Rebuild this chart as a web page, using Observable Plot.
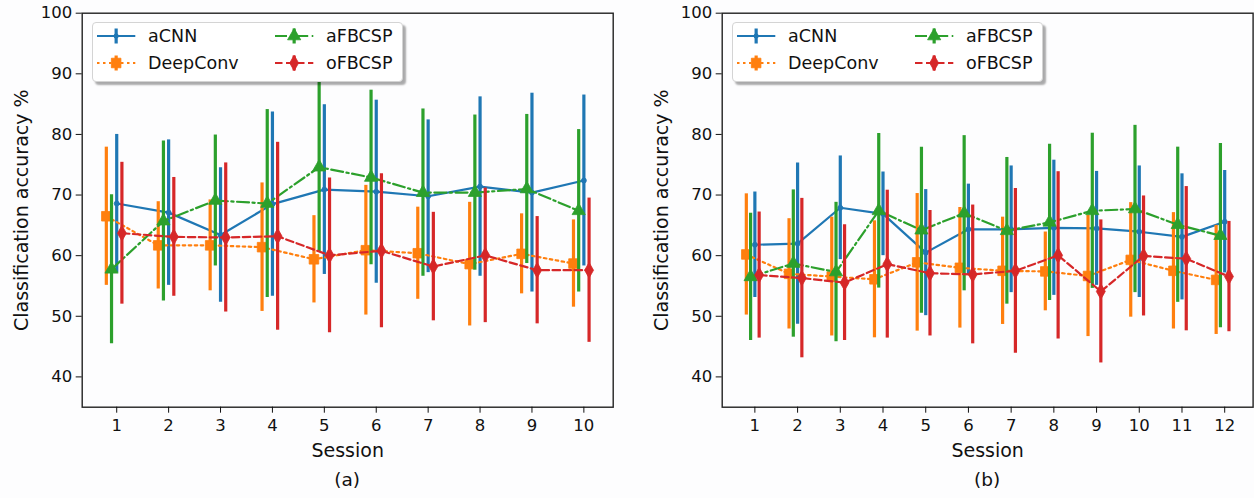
<!DOCTYPE html>
<html>
<head>
<meta charset="utf-8">
<script src="https://cdn.jsdelivr.net/npm/d3@7"></script>
<script src="https://cdn.jsdelivr.net/npm/@observablehq/plot@0.6"></script>
<style>
  body { margin: 0; background: #fdfdfe; font-family: "DejaVu Sans", sans-serif; color: #111; }
  #wrap { display: flex; width: 1254px; height: 498px; }
  .panel { position: relative; width: 627px; height: 498px; }
  .panel svg { display: block; }
  .cap { position: absolute; left: 0; top: 465px; height: 30px; line-height: 30px; font-size: 18.5px; text-align: center; transform: translateX(-50%); }
  .legend { position: absolute; top: 21.7px; width: 311.6px; height: 60px; box-sizing: border-box;
            background: #fff; border: 1px solid #d4d4d4; border-radius: 4px;
            box-shadow: 3px 3px 2px rgba(0,0,0,0.33); }
  .legend .h { position: absolute; }
  .legend .t { position: absolute; font-size: 17.5px; line-height: 20px; height: 20px; white-space: nowrap; }
</style>
</head>
<body>
<div id="wrap"></div>
<script>
// ---------------- data ----------------
const methods = ["aCNN", "DeepConv", "aFBCSP", "oFBCSP"];

// panel (a): sessions 1-10
const sessionsA = [1, 2, 3, 4, 5, 6, 7, 8, 9, 10];
const aCNN_a       = [68.6, 67.1, 63.4, 68.5, 70.9, 70.55, 69.8, 71.4, 70.4, 72.4];
const aCNN_a_err   = [11.4, 12.0, 11.1, 15.2, 14.0, 15.1, 12.6, 14.8, 16.4, 14.1];
const deepConv_a     = [66.5, 61.7, 61.7, 61.4, 59.4, 60.9, 60.4, 58.6, 60.3, 58.7];
const deepConv_a_err = [11.4, 7.2, 7.5, 10.6, 7.2, 10.7, 7.6, 10.2, 6.6, 7.2];
const aFBCSP_a     = [57.75, 65.7, 69.1, 68.6, 74.6, 72.9, 70.4, 70.4, 71.0, 67.4];
const aFBCSP_a_err = [12.3, 13.2, 10.8, 15.5, 14.0, 14.4, 13.8, 12.8, 12.3, 13.4];
const oFBCSP_a     = [63.7, 63.1, 63.0, 63.2, 60.05, 60.8, 58.2, 60.05, 57.6, 57.6];
const oFBCSP_a_err = [11.7, 9.8, 12.3, 15.5, 12.75, 12.7, 8.95, 11.1, 8.85, 11.9];

// panel (b): sessions 1-12
const sessionsB = [1, 2, 3, 4, 5, 6, 7, 8, 9, 10, 11, 12];
const aCNN_b       = [61.8, 62.0, 67.9, 66.9, 60.5, 64.35, 64.35, 64.6, 64.5, 63.95, 63.1, 65.6];
const aCNN_b_err   = [8.7, 13.3, 8.55, 6.9, 10.4, 7.45, 10.45, 11.15, 9.4, 10.85, 10.4, 8.45];
const deepConv_b     = [60.2, 57.0, 56.55, 56.1, 58.9, 58.0, 57.5, 57.4, 56.65, 59.3, 57.5, 56.0];
const deepConv_b_err = [10.0, 9.1, 9.8, 9.65, 11.35, 9.95, 8.85, 6.5, 10.0, 9.45, 9.6, 9.0];
const aFBCSP_b     = [56.5, 58.7, 57.3, 67.4, 64.2, 67.0, 64.1, 65.5, 67.4, 67.7, 65.1, 63.3];
const aFBCSP_b_err = [10.5, 12.15, 11.5, 12.75, 13.7, 12.8, 12.1, 12.9, 12.8, 13.8, 12.8, 15.2];
const oFBCSP_b     = [56.8, 56.3, 55.55, 58.6, 57.1, 56.9, 57.5, 60.05, 54.1, 59.95, 59.5, 56.55];
const oFBCSP_b_err = [10.4, 13.15, 9.55, 12.2, 10.35, 11.45, 13.6, 13.8, 11.8, 9.9, 11.9, 9.1];

const yTicks = [40, 50, 60, 70, 80, 90, 100];
const yLabel = "Classification accuracy %";
const xLabel = "Session";

// ---------------- styles ----------------
const sty = {
  aCNN:     {color: "#1f77b4", offset: 0,    dash: null,             symbol: "circle",   r: 2.5},
  DeepConv: {color: "#ff7f0e", offset: -0.2, dash: "2.5,3.5",        symbol: "square",   r: 5.4},
  aFBCSP:   {color: "#2ca02c", offset: -0.1, dash: "12,3.5,2.2,3.5", symbol: "triangle", r: 4.9},
  oFBCSP:   {color: "#d62728", offset: 0.1,  dash: "7.5,3.5",        symbol: "diamond",  r: 4.7}
};

function buildRows(sessions, series) {
  const rows = [];
  methods.forEach((m, k) => {
    const [mean, err] = series[k];
    sessions.forEach((s, i) => {
      rows.push({method: m, session: s, x: s + sty[m].offset, mean: mean[i], lo: mean[i] - err[i], hi: mean[i] + err[i]});
    });
  });
  return rows;
}

function makePanel(sessions, series, ml, mr, caption) {
  const rows = buildRows(sessions, series);
  const ext = d3.extent(rows, d => d.x);
  const pad = (ext[1] - ext[0]) * 0.05;
  const marks = [];
  methods.forEach(m => {
    const d = rows.filter(r => r.method === m);
    const s = sty[m];
    marks.push(Plot.ruleX(d, {x: "x", y1: "lo", y2: "hi", stroke: s.color, strokeWidth: 3.2}));
    marks.push(Plot.line(d, {x: "x", y: "mean", stroke: s.color, strokeWidth: 2.2, strokeDasharray: s.dash}));
    marks.push(Plot.dot(d, {x: "x", y: "mean", symbol: s.symbol, r: s.r, fill: s.color, stroke: s.color, strokeWidth: 0.8}));
  });
  marks.push(Plot.frame({stroke: "#222", strokeWidth: 1.4}));
  marks.push(Plot.axisY({ticks: yTicks, tickSize: 6, tickPadding: 4, label: null, fontSize: 16.5, tickFormat: d => d}));
  marks.push(Plot.axisX({ticks: sessions, tickSize: 6, tickPadding: 6, label: null, fontSize: 16.5, tickFormat: d => d}));
  marks.push(Plot.text([yLabel], {frameAnchor: "left", dx: -60.7, rotate: -90, fontSize: 19, textAnchor: "middle", lineAnchor: "middle", fill: "#111"}));
  marks.push(Plot.text([xLabel], {frameAnchor: "bottom", dy: 43.3, fontSize: 19, textAnchor: "middle", lineAnchor: "middle", fill: "#111"}));
  const chart = Plot.plot({
    width: 627, height: 465,
    marginLeft: ml, marginRight: mr, marginTop: 12.7, marginBottom: 58.3,
    x: {domain: [ext[0] - pad, ext[1] + pad]},
    y: {domain: [35, 100]},
    style: {fontFamily: "DejaVu Sans, sans-serif", fontSize: "16.5px", color: "#111", background: "transparent", overflow: "visible"},
    marks
  });
  const div = document.createElement("div");
  div.className = "panel";
  div.appendChild(chart);
  const cap = document.createElement("div");
  cap.className = "cap";
  cap.style.left = (ml + (627 - ml - mr) / 2) + "px";
  cap.textContent = caption;
  div.appendChild(cap);
  div.appendChild(makeLegend(ml + 9.8));
  return div;
}

function handleSVG(m) {
  const s = sty[m];
  const w = 38.3, h = 22, cy = 11;
  const size = Math.PI * s.r * s.r;
  const symMap = {square: d3.symbolSquare, triangle: d3.symbolTriangle, diamond: d3.symbolDiamond};
  let marker;
  if (s.symbol === "circle") marker = `<circle cx="${w/2}" cy="${cy}" r="${s.r}" fill="${s.color}"/>`;
  else marker = `<path transform="translate(${w/2},${cy})" d="${d3.symbol(symMap[s.symbol], size)()}" fill="${s.color}" stroke="${s.color}" stroke-width="0.8"/>`;
  return `<svg width="${w}" height="${h}" style="overflow:visible">
    <line x1="0" x2="${w}" y1="${cy}" y2="${cy}" stroke="${s.color}" stroke-width="2.2" ${s.dash ? `stroke-dasharray="${s.dash}"` : ""}/>
    <line x1="${w/2}" x2="${w/2}" y1="${cy - 7.5}" y2="${cy + 7.5}" stroke="${s.color}" stroke-width="3.2"/>
    ${marker}</svg>`;
}

function makeLegend(left) {
  const lg = document.createElement("div");
  lg.className = "legend";
  lg.style.left = left + "px";
  const pos = [[5, 14], [5, 41], [183, 14], [183, 41]];
  methods.forEach((m, k) => {
    const [hx, cy] = pos[k];
    const h = document.createElement("div");
    h.className = "h";
    h.style.left = (hx - 1) + "px";
    h.style.top = (cy - 11 - 1) + "px";
    h.innerHTML = handleSVG(m);
    lg.appendChild(h);
    const t = document.createElement("div");
    t.className = "t";
    t.style.left = (hx + 51.6 - 1) + "px";
    t.style.top = (cy - 10 - 1) + "px";
    t.textContent = m;
    lg.appendChild(t);
  });
  return lg;
}

const wrap = document.getElementById("wrap");
wrap.appendChild(makePanel(sessionsA,
  [[aCNN_a, aCNN_a_err], [deepConv_a, deepConv_a_err], [aFBCSP_a, aFBCSP_a_err], [oFBCSP_a, oFBCSP_a_err]],
  81.7, 14.3, "(a)"));
wrap.appendChild(makePanel(sessionsB,
  [[aCNN_b, aCNN_b_err], [deepConv_b, deepConv_b_err], [aFBCSP_b, aFBCSP_b_err], [oFBCSP_b, oFBCSP_b_err]],
  94.7, 1.4, "(b)"));
</script>
</body>
</html>
